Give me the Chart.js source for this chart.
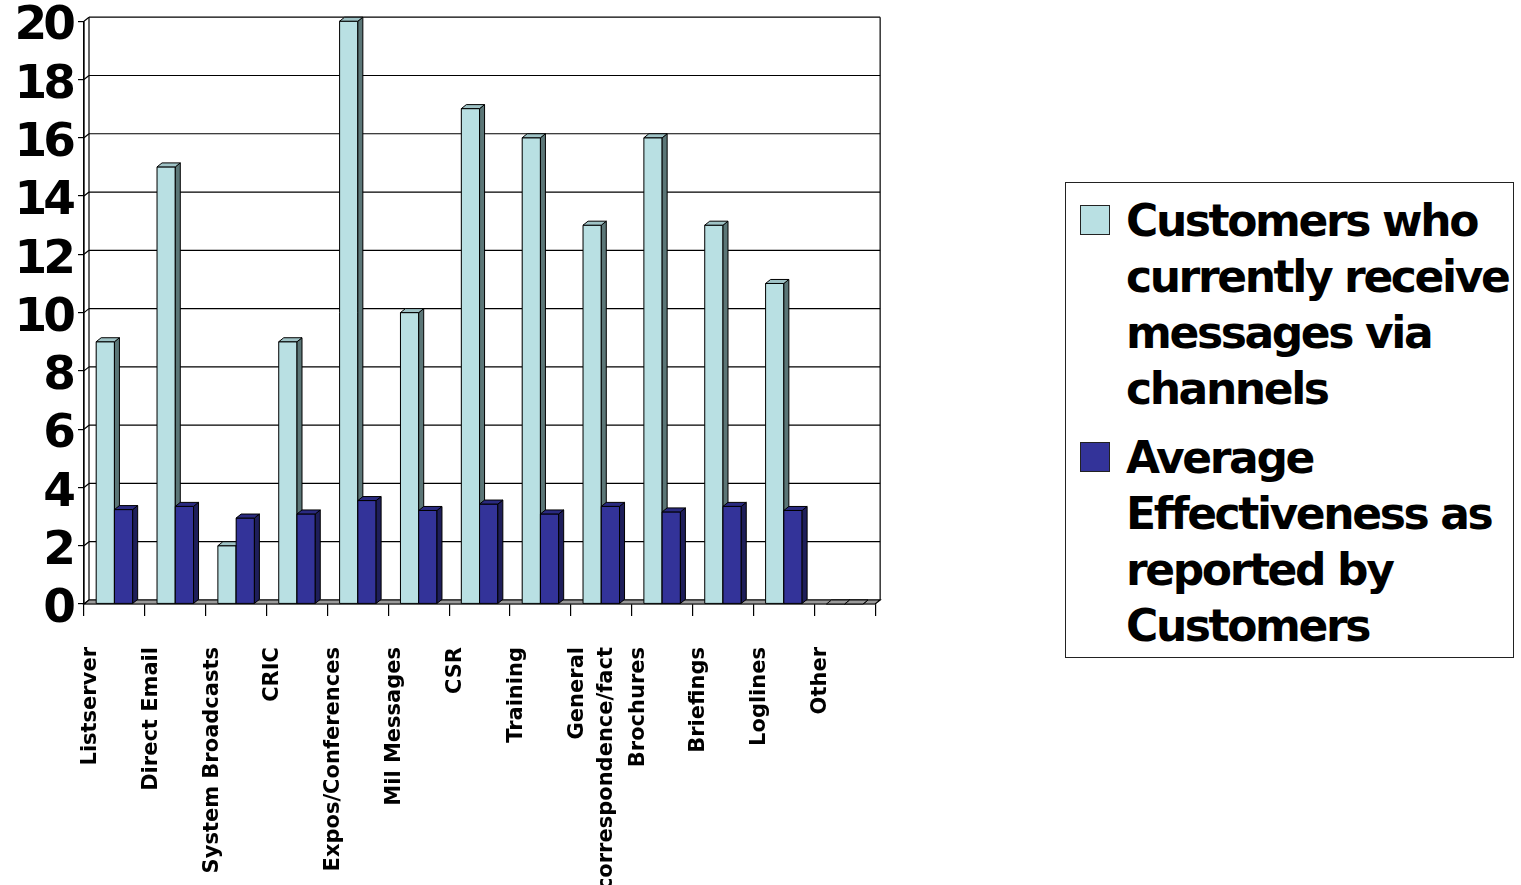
<!DOCTYPE html>
<html>
<head>
<meta charset="utf-8">
<script src="https://cdn.jsdelivr.net/npm/chart.js@4.4.0/dist/chart.umd.min.js"></script>
<style>
  body { margin: 0; background: #fff; font-family: "DejaVu Sans", sans-serif; overflow: hidden; }
  #wrap { position: absolute; left: 0; top: -13px; width: 906px; height: 898px; }
  #legend {
    position: absolute; left: 1065px; top: 182px; width: 449px; height: 476px;
    border: 1px solid #222; box-sizing: border-box;
  }
  .item { position: absolute; left: 60px; font-weight: bold; font-size: 44px; line-height: 56px; letter-spacing: -2.4px; color: #000; white-space: nowrap; }
  .box { position: absolute; left: -46px; top: 12px; width: 28px; height: 28px; border: 1px solid #222; }
</style>
</head>
<body>
<div id="wrap"><canvas id="chart"></canvas></div>
<div id="legend"></div>
<script>
var categories = ["Listserver", "Direct Email", "System Broadcasts", "CRIC", "Expos/Conferences",
  "Mil Messages", "CSR", "Training", ["General", "correspondence/fact"], "Brochures",
  "Briefings", "Loglines", "Other"];
var customers = [9, 15, 2, 9, 20, 10, 17, 16, 13, 16, 13, 11, 0];
var effectiveness = [3.24, 3.35, 2.95, 3.09, 3.55, 3.21, 3.43, 3.09, 3.35, 3.16, 3.35, 3.21, 0];
var yTicks = [0, 2, 4, 6, 8, 10, 12, 14, 16, 18, 20];
var seriesNames = [["Customers who", "currently receive", "messages via", "channels"],
  ["Average", "Effectiveness as", "reported by", "Customers"]];

var DX = 5, DY = 4;
var frontColors = ["#b9e0e3", "#333399"];
var sideColors = ["#5b7677", "#1e1e5a"];
var topColors = ["#9fc3c6", "#2a2a80"];

function poly(ctx, pts, fill) {
    ctx.beginPath();
    ctx.moveTo(pts[0][0], pts[0][1]);
    for (var i = 1; i < pts.length; i++) ctx.lineTo(pts[i][0], pts[i][1]);
    ctx.closePath();
    ctx.fillStyle = fill;
    ctx.fill();
    ctx.stroke();
}

var box3d = {
    id: 'box3d',
    beforeDatasetsDraw: function(chart) {
        var ctx = chart.ctx, a = chart.chartArea, y = chart.scales.y;
        ctx.save();
        ctx.strokeStyle = "#000";
        ctx.lineWidth = 1.2;
        // back wall grid
        yTicks.forEach(function(v) {
            var py = y.getPixelForValue(v);
            ctx.beginPath();
            ctx.moveTo(a.left + DX, py - DY);
            ctx.lineTo(a.right + DX, py - DY);
            ctx.moveTo(a.left, py);
            ctx.lineTo(a.left + DX, py - DY);
            ctx.stroke();
        });
        var top = y.getPixelForValue(20);
        ctx.beginPath();
        ctx.moveTo(a.left + DX, top - DY);
        ctx.lineTo(a.left + DX, a.bottom - DY);
        ctx.moveTo(a.right + DX, top - DY);
        ctx.lineTo(a.right + DX, a.bottom - DY);
        ctx.moveTo(a.left, top);
        ctx.lineTo(a.left, a.bottom);
        ctx.stroke();
        // floor
        poly(ctx, [[a.left, a.bottom], [a.left + DX, a.bottom - DY], [a.right + DX, a.bottom - DY], [a.right, a.bottom]], "#9a9a9a");
        ctx.restore();
    },
    afterDatasetsDraw: function(chart) {
        var ctx = chart.ctx;
        ctx.save();
        ctx.strokeStyle = "#000";
        ctx.lineWidth = 1;
        ctx.lineJoin = "round";
        var n = chart.data.labels.length;
        for (var i = 0; i < n; i++) {
            for (var d = 0; d < chart.data.datasets.length; d++) {
                var el = chart.getDatasetMeta(d).data[i];
                var l = el.x - el.width / 2, r = el.x + el.width / 2;
                var t = el.y, b = el.base;
                if (b - t > 0.5) {
                    ctx.fillStyle = frontColors[d];
                    ctx.fillRect(l, t, r - l, b - t);
                    ctx.strokeRect(l, t, r - l, b - t);
                }
                poly(ctx, [[r, t], [r + DX, t - DY], [r + DX, b - DY], [r, b]], sideColors[d]);
                poly(ctx, [[l, t], [l + DX, t - DY], [r + DX, t - DY], [r, t]], b - t > 0.5 ? topColors[d] : "#9a9a9a");
            }
        }
        ctx.restore();
    }
};

function pageLoad() {
    var ctx = document.getElementById("chart");
    var chart = new Chart(ctx, {
        type: 'bar',
        data: {
            labels: categories,
            datasets: [{
                label: seriesNames[0].join(" "),
                data: customers,
                backgroundColor: frontColors[0],
                borderColor: '#000',
                borderWidth: 1,
                categoryPercentage: 0.6,
                barPercentage: 1.0
            }, {
                label: seriesNames[1].join(" "),
                data: effectiveness,
                backgroundColor: frontColors[1],
                borderColor: '#000',
                borderWidth: 1,
                categoryPercentage: 0.6,
                barPercentage: 1.0
            }]
        },
        options: {
            responsive: true,
            maintainAspectRatio: false,
            animation: false,
            layout: { padding: { top: 0, right: 23, left: 0, bottom: 0 } },
            plugins: { legend: { display: false }, tooltip: { enabled: false } },
            scales: {
                x: {
                    offset: true,
                    grid: { offset: true, drawOnChartArea: false, drawTicks: true, tickLength: 12, color: '#000', lineWidth: 1.2 },
                    border: { display: true, color: '#000', width: 1.2 },
                    afterFit: function(s) { s.height = 281; },
                    ticks: {
                        color: '#000',
                        minRotation: 90, maxRotation: 90,
                        autoSkip: false,
                        padding: 31,
                        labelOffset: -24,
                        font: { family: 'DejaVu Sans', weight: 'bold', size: 21, lineHeight: 1.4 }
                    }
                },
                y: {
                    min: 0, max: 20,
                    afterBuildTicks: function(s) { s.ticks = yTicks.map(function(v) { return { value: v }; }); },
                    grid: { drawOnChartArea: false, drawTicks: true, tickLength: 6, color: '#000', lineWidth: 1.2 },
                    border: { display: true, color: '#000', width: 1.2 },
                    afterFit: function(s) { s.width = 84; },
                    ticks: {
                        color: '#000',
                        autoSkip: false,
                        padding: 6,
                        labelOffset: 6,
                        font: { family: 'DejaVu Sans', weight: 'bold', size: 47 }
                    }
                }
            }
        },
        plugins: [box3d]
    });

    // tighter letters on the big value labels
    var ys = chart.scales.y;
    var origDraw = ys.drawLabels;
    ys.drawLabels = function(area) {
        this.ctx.save();
        this.ctx.letterSpacing = '-4px';
        origDraw.call(this, area);
        this.ctx.restore();
    };
    chart.draw();

    // legend from the chart's datasets
    var lg = document.getElementById("legend");
    var tops = [10, 247];
    chart.data.datasets.forEach(function(ds, i) {
        var div = document.createElement("div");
        div.className = "item";
        div.style.top = tops[i] + "px";
        var sw = document.createElement("span");
        sw.className = "box";
        sw.style.background = ds.backgroundColor;
        div.appendChild(sw);
        seriesNames[i].forEach(function(line, k) {
            if (k > 0) div.appendChild(document.createElement("br"));
            div.appendChild(document.createTextNode(line));
        });
        lg.appendChild(div);
    });
}

window.onload = pageLoad;
</script>
</body>
</html>
